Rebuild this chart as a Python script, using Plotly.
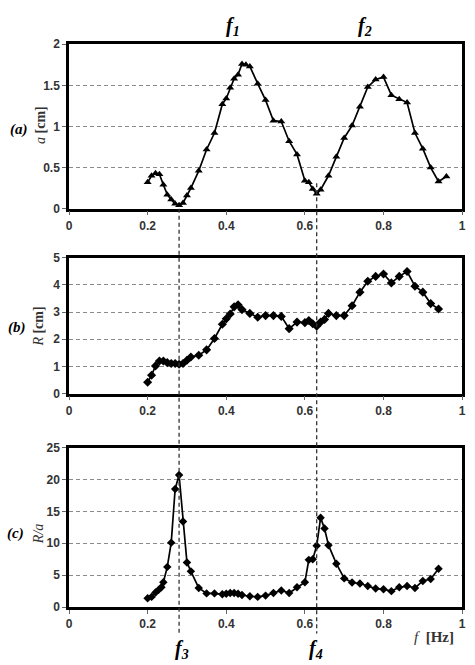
import plotly.graph_objects as go

# ---------------- data ----------------
freq_a = [0.20, 0.21, 0.22, 0.23, 0.24, 0.25, 0.26, 0.27, 0.28, 0.29, 0.30, 0.31,
          0.33, 0.35, 0.37, 0.39, 0.40, 0.41, 0.42, 0.43, 0.44, 0.45, 0.46, 0.48,
          0.50, 0.52, 0.54, 0.56, 0.58, 0.60, 0.61, 0.62, 0.63, 0.64, 0.66, 0.68,
          0.70, 0.72, 0.74, 0.76, 0.78, 0.80, 0.82, 0.84, 0.86, 0.88, 0.90, 0.92,
          0.94, 0.96]
amp_a = [0.32, 0.40, 0.43, 0.42, 0.29, 0.17, 0.11, 0.06, 0.04, 0.07, 0.16, 0.25,
         0.46, 0.72, 0.92, 1.27, 1.34, 1.47, 1.58, 1.63, 1.76, 1.75, 1.73, 1.52,
         1.32, 1.07, 1.06, 0.82, 0.66, 0.34, 0.32, 0.24, 0.18, 0.23, 0.40, 0.63,
         0.86, 1.01, 1.24, 1.48, 1.57, 1.60, 1.38, 1.33, 1.29, 0.92, 0.73, 0.50,
         0.33, 0.39]

freq_b = [0.20, 0.21, 0.22, 0.23, 0.24, 0.25, 0.26, 0.27, 0.28, 0.29, 0.30, 0.31,
          0.33, 0.35, 0.37, 0.39, 0.40, 0.41, 0.42, 0.43, 0.44, 0.46, 0.48, 0.50,
          0.52, 0.54, 0.56, 0.58, 0.60, 0.61, 0.62, 0.63, 0.64, 0.65, 0.66, 0.68,
          0.70, 0.72, 0.74, 0.76, 0.78, 0.80, 0.82, 0.84, 0.86, 0.88, 0.90, 0.92,
          0.94]
resp_b = [0.42, 0.68, 1.02, 1.20, 1.20, 1.14, 1.11, 1.11, 1.08, 1.11, 1.23, 1.35,
          1.41, 1.61, 2.03, 2.55, 2.75, 2.93, 3.19, 3.27, 3.09, 2.95, 2.81, 2.87,
          2.87, 2.84, 2.39, 2.63, 2.61, 2.69, 2.57, 2.48, 2.63, 2.73, 2.95, 2.87,
          2.87, 3.23, 3.73, 4.13, 4.31, 4.40, 4.07, 4.31, 4.49, 3.95, 3.73, 3.31,
          3.11]

freq_c = [0.20, 0.21, 0.22, 0.228, 0.235, 0.24, 0.25, 0.26, 0.27, 0.28, 0.29, 0.30,
          0.31, 0.33, 0.35, 0.37, 0.39, 0.40, 0.41, 0.42, 0.43, 0.44, 0.46, 0.48,
          0.50, 0.52, 0.54, 0.56, 0.58, 0.60, 0.61, 0.62, 0.63, 0.64, 0.65, 0.66,
          0.68, 0.70, 0.72, 0.74, 0.76, 0.78, 0.80, 0.82, 0.84, 0.86, 0.88, 0.90,
          0.92, 0.94]
ratio_c = [1.4, 1.6, 2.3, 2.7, 3.1, 3.9, 6.3, 10.1, 18.5, 20.7, 13.4, 7.0,
           5.6, 3.0, 2.15, 2.15, 2.0, 2.1, 2.2, 2.2, 2.1, 1.9, 1.7, 1.6,
           1.8, 2.2, 2.6, 2.2, 3.1, 3.9, 7.4, 7.5, 9.6, 14.0, 12.3, 9.7,
           6.8, 4.5, 3.85, 3.7, 3.3, 2.9, 2.8, 2.5, 3.1, 3.3, 3.0, 4.1,
           4.4, 6.0]

x_ticks = [0, 0.2, 0.4, 0.6, 0.8, 1]
x_tick_labels = ["0", "0.2", "0.4", "0.6", "0.8", "1"]
res_freqs = [0.28, 0.63]          # f3, f4 dashed guide lines

# ---------------- layout helpers ----------------
W, H = 475, 665
def py(p):  # pixel y -> paper y
    return 1 - p / H
def px(p):
    return p / W

x0, x1 = 67, 466
panels = [  # (top px, bottom px)
    (38, 206),
    (256, 395),
    (450, 613),
]

fig = go.Figure()

line_style = dict(color="black", width=1.7)
fig.add_trace(go.Scatter(x=freq_a, y=amp_a, mode="lines+markers", line=line_style,
                         marker=dict(symbol="triangle-up", size=7, color="black"),
                         xaxis="x", yaxis="y", showlegend=False))
fig.add_trace(go.Scatter(x=freq_b, y=resp_b, mode="lines+markers", line=line_style,
                         marker=dict(symbol="diamond", size=7, color="black"),
                         xaxis="x2", yaxis="y2", showlegend=False))
fig.add_trace(go.Scatter(x=freq_c, y=ratio_c, mode="lines+markers", line=line_style,
                         marker=dict(symbol="diamond", size=6.5, color="black"),
                         xaxis="x3", yaxis="y3", showlegend=False))

tick_font = dict(family="Liberation Sans, Arial", size=12, color="#333333")
yranges = [(0, 2, 0.5), (0, 5, 1), (0, 25, 5)]

for i, ((top, bot), (ylo, yhi, dt)) in enumerate(zip(panels, yranges)):
    suffix = "" if i == 0 else str(i + 1)
    fig.layout["xaxis" + suffix] = dict(
        domain=[px(x0), px(x1)], range=[0, 1], anchor="y" + suffix,
        tickvals=x_ticks, ticktext=["<b>%s</b>" % t for t in x_tick_labels],
        ticks="outside", ticklen=4, tickcolor="#666", tickwidth=1,
        showline=True, linecolor="black", linewidth=2.5, mirror=True,
        showgrid=False, zeroline=False, tickfont=tick_font, fixedrange=True)
    yt = []
    v = ylo
    while v <= yhi + 1e-9:
        yt.append(round(v, 3))
        v += dt
    fig.layout["yaxis" + suffix] = dict(
        domain=[py(bot), py(top)], range=[ylo, yhi], anchor="x" + suffix,
        tickvals=yt, ticktext=["<b>%g</b>" % t for t in yt],
        ticks="outside", ticklen=4, tickcolor="#666", tickwidth=1,
        showline=True, linecolor="black", linewidth=2.5, mirror=True,
        showgrid=True, gridcolor="#8a8a8a", griddash="4px,3px", gridwidth=1,
        zeroline=False, tickfont=tick_font, fixedrange=True)

# dashed guide lines for f3 and f4
guide_tops = [206, 180]
for f, t in zip(res_freqs, guide_tops):
    fig.add_shape(type="line", xref="x", yref="paper", x0=f, x1=f,
                  y0=py(t), y1=py(640),
                  line=dict(color="#333", width=1.3, dash="4px,3px"))

serif = "Liberation Serif, Times New Roman"
ann = []
def add(text, xp, yp, size, angle=0, color="black", xanchor="center"):
    ann.append(dict(text=text, x=px(xp), y=py(yp), xref="paper", yref="paper",
                    showarrow=False, textangle=angle, xanchor=xanchor, yanchor="middle",
                    font=dict(family=serif, size=size, color=color)))

add("<b><i>f<sub>1</sub></i></b>", 233, 20, 20)
add("<b><i>f<sub>2</sub></i></b>", 367, 20, 20)
add("<b><i>f<sub>3</sub></i></b>", 182, 656, 20)
add("<b><i>f<sub>4</sub></i></b>", 318, 656, 20)
add("<b><i>(a)</i></b>", 16, 125, 15)
add("<b><i>(b)</i></b>", 14, 327, 15)
add("<b><i>(c)</i></b>", 13, 538, 15)
add("<i>a</i> <b>[cm]</b>", 38, 120, 14, angle=-90, color="#333")
add("<i>R</i> <b>[cm]</b>", 36, 326, 14, angle=-90, color="#333")
add("<i>R/a</i>", 36, 538, 14, angle=-90, color="#333")
add("<i>f</i>  <b>[Hz]</b>", 437, 644, 15, color="#333")
fig.update_layout(annotations=ann)

fig.update_layout(width=W, height=H, margin=dict(l=0, r=0, t=0, b=0),
                  paper_bgcolor="white", plot_bgcolor="white")

fig.write_html("out.html")
